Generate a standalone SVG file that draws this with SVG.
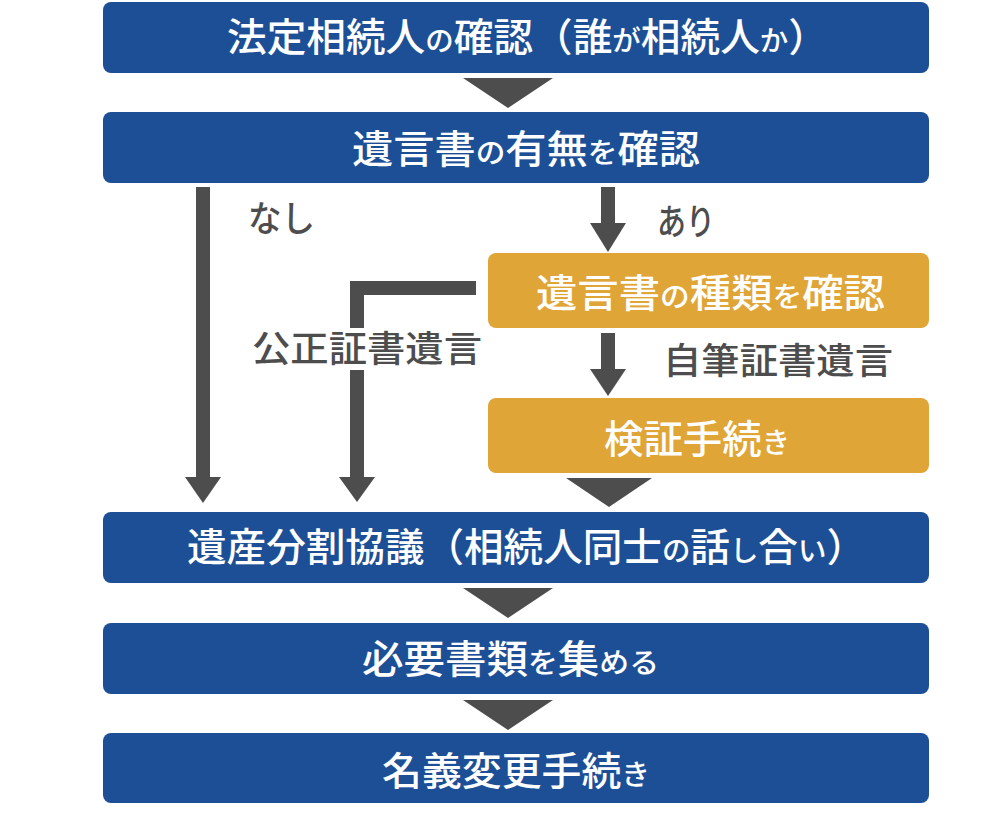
<svg xmlns="http://www.w3.org/2000/svg" width="1000" height="819" viewBox="0 0 1000 819">
<style>
.blue{fill:#1d4f96}
.orange{fill:#e0a537}
.t{font-family:"Noto Sans CJK JP","Noto Sans CJK SC",sans-serif;fill:#ffffff;font-weight:500;font-size:39px}
.k{font-size:28px}
.lbl{font-family:"Noto Sans CJK JP","Noto Sans CJK SC",sans-serif;fill:#4d4d4d;font-weight:500;font-size:36px}
.arr{fill:#4d4d4d}
</style>
<rect width="1000" height="819" fill="#ffffff"/>
<g id="connectors">
  <polygon class="arr" points="463,78 553,78 508,108"/>
  <rect class="arr" x="196" y="187" width="14" height="292"/>
  <polygon class="arr" points="185,477 221,477 203,503"/>
  <rect class="arr" x="601" y="187" width="14" height="38"/>
  <polygon class="arr" points="590,223 626,223 608,252"/>
  <path class="arr" d="M476,281 H350 V328 H364 V295 H476 Z"/>
  <rect class="arr" x="350" y="370" width="14" height="109"/>
  <polygon class="arr" points="339,477 375,477 357,502"/>
  <rect class="arr" x="601" y="333" width="14" height="38"/>
  <polygon class="arr" points="590,369 626,369 608,396"/>
  <polygon class="arr" points="566,478 652,478 609,507"/>
  <polygon class="arr" points="463,588 553,588 508,618"/>
  <polygon class="arr" points="463,700 553,700 508,730"/>
</g>
<g id="n1">
  <rect class="blue" x="103" y="2" width="826" height="71" rx="8"/>
  <text class="t" x="227" y="51" textLength="601" lengthAdjust="spacingAndGlyphs">法定相続人<tspan class="k">の</tspan>確認（誰<tspan class="k">が</tspan>相続人<tspan class="k">か</tspan>）</text>
</g>
<g id="n2">
  <rect class="blue" x="103" y="112" width="826" height="71" rx="8"/>
  <text class="t" x="352" y="163" textLength="348" lengthAdjust="spacingAndGlyphs">遺言書<tspan class="k">の</tspan>有無<tspan class="k">を</tspan>確認</text>
</g>
<g id="n3">
  <rect class="orange" x="488" y="253" width="441" height="75" rx="8"/>
  <text class="t" x="536" y="307" textLength="349" lengthAdjust="spacingAndGlyphs">遺言書<tspan class="k">の</tspan>種類<tspan class="k">を</tspan>確認</text>
</g>
<g id="n4">
  <rect class="orange" x="488" y="398" width="441" height="75" rx="8"/>
  <text class="t" x="604" y="453" textLength="186" lengthAdjust="spacingAndGlyphs">検証手続<tspan class="k">き</tspan></text>
</g>
<g id="n5">
  <rect class="blue" x="103" y="512" width="826" height="71" rx="8"/>
  <text class="t" x="187" y="561" textLength="679" lengthAdjust="spacingAndGlyphs">遺産分割協議（相続人同士<tspan class="k">の</tspan>話<tspan class="k">し</tspan>合<tspan class="k">い</tspan>）</text>
</g>
<g id="n6">
  <rect class="blue" x="103" y="623" width="826" height="71" rx="8"/>
  <text class="t" x="362" y="673" textLength="297" lengthAdjust="spacingAndGlyphs">必要書類<tspan class="k">を</tspan>集<tspan class="k">める</tspan></text>
</g>
<g id="n7">
  <rect class="blue" x="103" y="733" width="826" height="70" rx="8"/>
  <text class="t" x="382" y="785" textLength="268" lengthAdjust="spacingAndGlyphs">名義変更手続<tspan class="k">き</tspan></text>
</g>
<g id="labels">
  <text class="lbl" x="248" y="232" textLength="67" lengthAdjust="spacingAndGlyphs">なし</text>
  <text class="lbl" x="657" y="235" textLength="58" lengthAdjust="spacingAndGlyphs">あり</text>
  <text class="lbl" x="252" y="362" textLength="230" lengthAdjust="spacingAndGlyphs">公正証書遺言</text>
  <text class="lbl" x="663" y="374" textLength="230" lengthAdjust="spacingAndGlyphs">自筆証書遺言</text>
</g>
</svg>
